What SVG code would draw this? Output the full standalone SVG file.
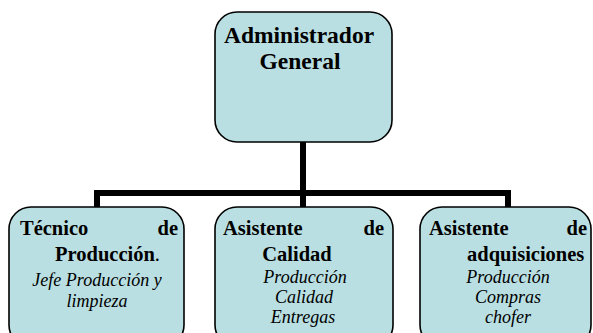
<svg xmlns="http://www.w3.org/2000/svg" width="593" height="333" viewBox="0 0 593 333">
<style>
.box{fill:#b9dfe2;stroke:#000;stroke-width:1.6}
text{font-family:'Liberation Serif','Times New Roman',Times,Tinos,'DejaVu Serif',serif;fill:#000}
.b{font-weight:bold;font-size:20.5px}
.t{font-weight:bold;font-size:23.5px}
.i{font-style:italic;font-size:18px;text-anchor:middle}
.c{fill:none;stroke:#000;stroke-width:6}
</style>
<rect width="593" height="333" fill="#fff"/>
<g id="connectors">
<path class="c" d="M303 142 V193 M94 193 H511 M97 193 V207 M303 193 V207 M508 193 V207"/>
</g>
<g id="admin">
<rect class="box" x="215" y="12" width="177" height="130" rx="22"/>
<text class="t" x="299" y="43" text-anchor="middle">Administrador</text>
<text class="t" x="300" y="69" text-anchor="middle">General</text>
</g>
<g id="tecnico">
<rect class="box" x="9" y="207" width="175" height="140" rx="22"/>
<text class="b" x="20" y="235">Técnico</text>
<text class="b" x="178" y="235" text-anchor="end">de</text>
<text class="b" x="55" y="261">Producción<tspan font-weight="normal">.</tspan></text>
<text class="i" x="97" y="286">Jefe Producción y</text>
<text class="i" x="97" y="307">limpieza</text>
</g>
<g id="calidad">
<rect class="box" x="215" y="207" width="178" height="140" rx="22"/>
<text class="b" x="223" y="235">Asistente</text>
<text class="b" x="384" y="235" text-anchor="end">de</text>
<text class="b" x="297" y="261" text-anchor="middle">Calidad</text>
<text class="i" x="305" y="283">Producción</text>
<text class="i" x="304" y="303">Calidad</text>
<text class="i" x="303" y="323">Entregas</text>
</g>
<g id="adquisiciones">
<rect class="box" x="420" y="207" width="171" height="140" rx="22"/>
<text class="b" x="429" y="235">Asistente</text>
<text class="b" x="587" y="235" text-anchor="end">de</text>
<text class="b" x="467" y="261">adquisiciones</text>
<text class="i" x="508" y="283">Producción</text>
<text class="i" x="508" y="303">Compras</text>
<text class="i" x="508" y="323">chofer</text>
</g>
</svg>
